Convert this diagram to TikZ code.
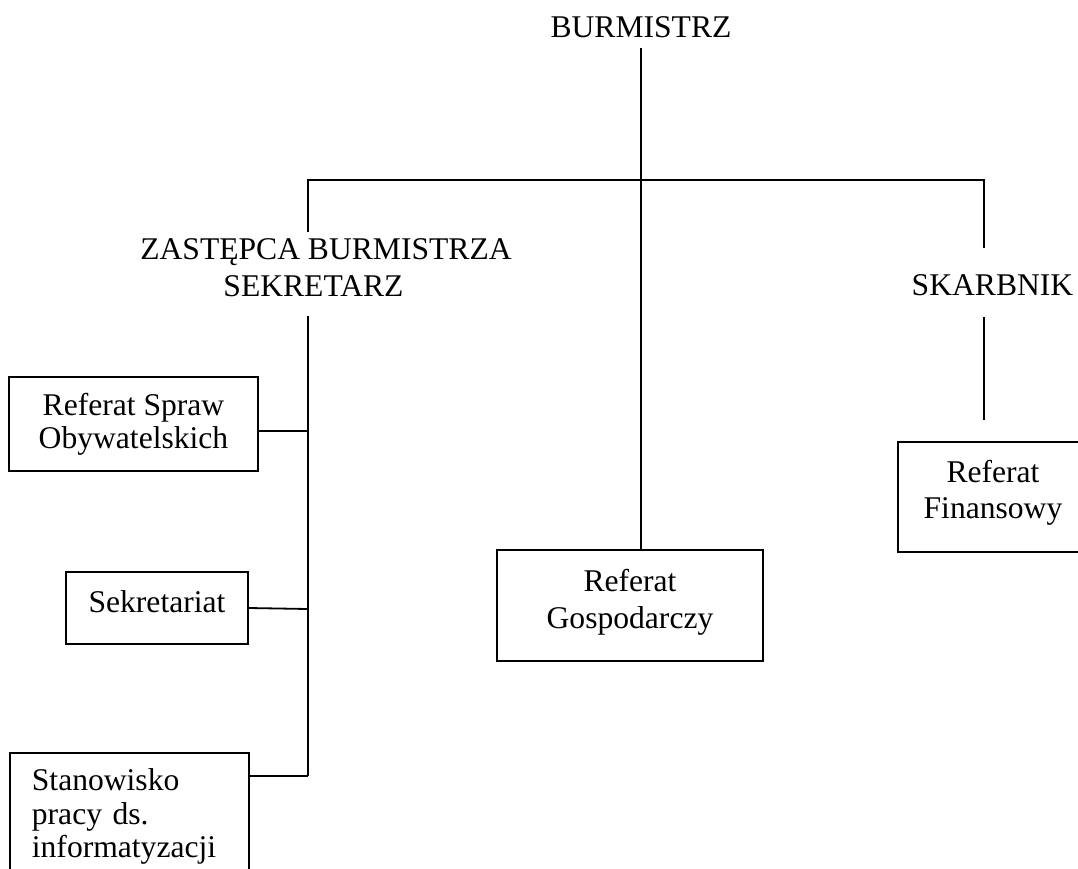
\documentclass[tikz,border=0pt]{standalone}
\usepackage{fontspec}
\setmainfont{Liberation Serif}
\begin{document}
\begin{tikzpicture}[x=1pt,y=-1pt,
  lbl/.style={inner sep=0pt,font=\fontsize{31.6pt}{36pt}\selectfont},
  box/.style={draw,line width=1.8pt,inner sep=0pt,align=center},
  conn/.style={line width=1.8pt}]
\fill[white] (0,0) rectangle (1078,868);
\useasboundingbox (0,0) rectangle (1078,868);
% labels
\node[lbl,anchor=base] (burm) at (641,37) {BURMISTRZ};
\node[lbl,anchor=north,align=center,font=\fontsize{31.6pt}{37pt}\selectfont] (zast) at (326,238) {ZASTĘPCA BURMISTRZA\\SEKRETARZ\kern25pt};
\node[lbl,anchor=base] (skar) at (992.5,295) {SKARBNIK};
% boxes
\node[box,minimum width=249pt,minimum height=94pt,font=\fontsize{31.6pt}{33pt}\selectfont] (rso) at (133.5,424) {Referat Spraw\\Obywatelskich};
\node[box,minimum width=182pt,minimum height=72pt,text depth=13.6pt,font=\fontsize{31.6pt}{36pt}\selectfont] (sek) at (157,608) {Sekretariat};
\node[box,anchor=north west,align=left,inner xsep=22pt,inner ysep=16pt,text width=195pt,font=\fontsize{31.6pt}{33.5pt}\selectfont] (sta) at (9,752) {Stanowisko\\pracy ds.\\informatyzacji};
\node[box,minimum width=266pt,minimum height=111pt,text depth=13.5pt,font=\fontsize{31.6pt}{37pt}\selectfont] (gosp) at (630,605.5) {Referat\\Gospodarczy};
\node[box,minimum width=190pt,minimum height=110pt,text depth=15.7pt,font=\fontsize{31.6pt}{36pt}\selectfont] (fin) at (993,497) {Referat\\Finansowy};
% junction / free-end coordinates
\coordinate (bT) at (641,48);
\coordinate (jL) at (308,180);
\coordinate (jR) at (984,180);
\coordinate (zT) at (308,232);
\coordinate (zB) at (308,316);
\coordinate (b1) at (308,431);
\coordinate (b2) at (308,609);
\coordinate (b3) at (308,776);
\coordinate (sT) at (984,248);
\coordinate (sB1) at (984,317);
\coordinate (sB2) at (984,420);
% connectors
\draw[conn] (bT) -- (bT |- gosp.north);
\draw[conn] (zT) -- (jL) -- (jR) -- (sT);
\draw[conn] (zB) -- (b3);
\draw[conn] (rso.east |- b1) -- (b1);
\draw[conn] (sek.east) -- (b2);
\draw[conn] (sta.east |- b3) -- (b3);
\draw[conn] (sB1) -- (sB2);
\end{tikzpicture}
\end{document}
